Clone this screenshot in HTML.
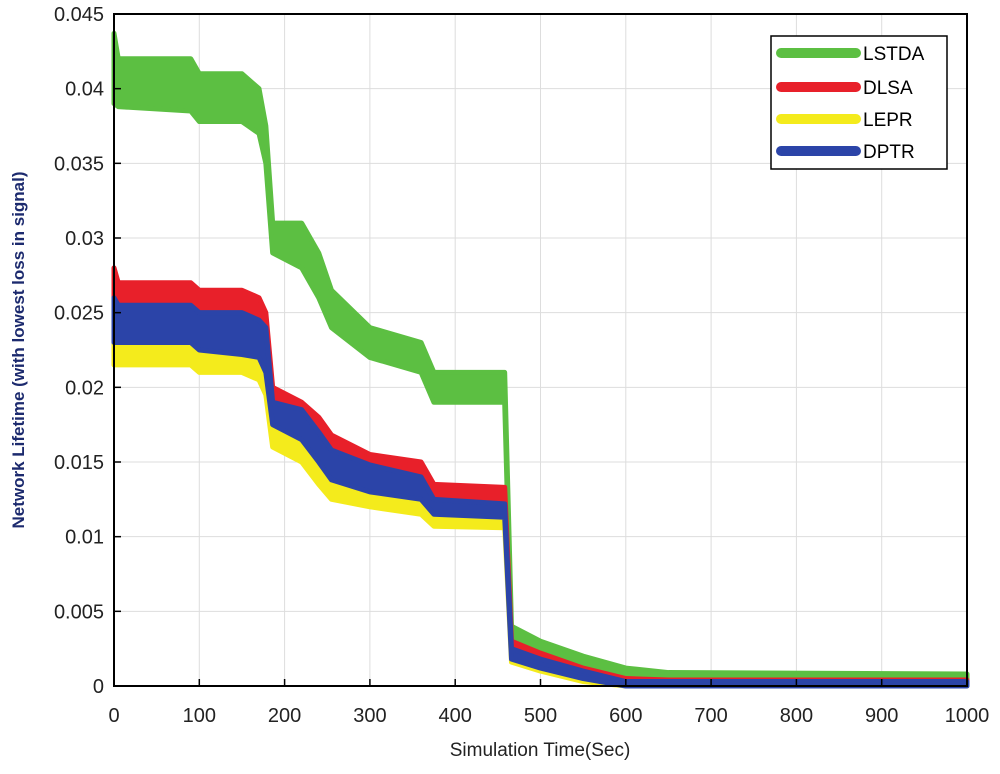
<!DOCTYPE html>
<html><head><meta charset="utf-8"><style>
body{margin:0;background:#fff;}
svg text{font-family:"Liberation Sans",sans-serif;}
</style></head><body>
<svg id="chart" width="1000" height="769" xmlns="http://www.w3.org/2000/svg">
<g id="grid"></g>
<g id="series"></g>
<rect x="114" y="14" width="853" height="672" fill="none" stroke="#000" stroke-width="2"/>
<g id="ticks"></g>
<text x="540" y="756" font-size="19" text-anchor="middle" fill="#222">Simulation Time(Sec)</text>
<text transform="translate(24,350) rotate(-90)" font-size="17" font-weight="bold" text-anchor="middle" fill="#1c2a6e">Network Lifetime (with lowest loss in signal)</text>
<g>
<rect x="771" y="36" width="176" height="133" fill="#fff" stroke="#000" stroke-width="1.5"/>
<line x1="781" y1="53" x2="856" y2="53" stroke="#5cbf42" stroke-width="10" stroke-linecap="round"/>
<text x="863" y="60" font-size="19">LSTDA</text>
<line x1="781" y1="87" x2="856" y2="87" stroke="#e8202a" stroke-width="10" stroke-linecap="round"/>
<text x="863" y="94" font-size="19">DLSA</text>
<line x1="781" y1="119" x2="856" y2="119" stroke="#f4eb1c" stroke-width="10" stroke-linecap="round"/>
<text x="863" y="126" font-size="19">LEPR</text>
<line x1="781" y1="151" x2="856" y2="151" stroke="#2b44a8" stroke-width="10" stroke-linecap="round"/>
<text x="863" y="158" font-size="19">DPTR</text>
</g>
</svg>
<script>
const times = [0,5,90,100,150,170,178,186,220,240,255,300,360,375,458,466,500,550,600,650,1000];
const lstdaUpper = [.0437,.042,.042,.041,.041,.040,.0375,.031,.031,.029,.0265,.024,.023,.021,.021,.004,.003,.002,.0012,.0009,.0008];
const lstdaLower = [.039,.0388,.0385,.0378,.0378,.037,.035,.029,.028,.026,.024,.022,.021,.019,.019,.0025,.0018,.0012,.0005,.0004,.0003];
const dlsaUpper = [.028,.027,.027,.0265,.0265,.026,.025,.020,.019,.018,.0168,.0155,.015,.0135,.0133,.003,.0022,.0012,.0005,.0004,.0004];
const dptrUpper = [.026,.0255,.0255,.025,.025,.0245,.024,.019,.0185,.017,.0158,.0148,.014,.0125,.0122,.0025,.0018,.001,.0003,.0003,.0003];
const dptrLower = [.023,.023,.023,.0225,.0222,.022,.021,.0175,.0165,.015,.0138,.013,.0125,.0115,.0113,.0018,.0012,.0005,0,0,0];
const leprLower = [.0215,.0215,.0215,.021,.021,.0205,.0195,.016,.015,.0135,.0125,.012,.0115,.0107,.0106,.0016,.001,.0003,0,0,0];
const xTicks = [0,100,200,300,400,500,600,700,800,900,1000];
const yTicks = [0,0.005,0.01,0.015,0.02,0.025,0.03,0.035,0.04,0.045];
const yTickLabels = ["0","0.005","0.01","0.015","0.02","0.025","0.03","0.035","0.04","0.045"];

const NS="http://www.w3.org/2000/svg";
const X0=114,X1=967,Y0=686,Y1=14;
function xs(v){return X0+(v/1000)*(X1-X0);}
function ys(v){return Y0-(v/0.045)*(Y0-Y1);}
const grid=document.getElementById('grid'),ticks=document.getElementById('ticks'),ser=document.getElementById('series');
function mk(tag,attrs,parent){const e=document.createElementNS(NS,tag);for(const k in attrs)e.setAttribute(k,attrs[k]);parent.appendChild(e);return e;}
xTicks.forEach((t,i)=>{
  const g=mk('line',{x1:xs(t),x2:xs(t),y1:Y1,y2:Y0,stroke:'#ddd','stroke-width':1},grid);
  
  
  const tk=mk('line',{x1:xs(t),x2:xs(t),y1:Y0,y2:Y0-7,stroke:'#000','stroke-width':1.5},ticks);
  
  
  const tx=mk('text',{x:xs(t),y:722,'font-size':20,'text-anchor':'middle',fill:'#222'},ticks);
  tx.textContent=String(t);
  
  
});
yTicks.forEach((t,i)=>{
  const g=mk('line',{x1:X0,x2:X1,y1:ys(t),y2:ys(t),stroke:'#ddd','stroke-width':1},grid);
  
  
  const tk=mk('line',{x1:X0,x2:X0+7,y1:ys(t),y2:ys(t),stroke:'#000','stroke-width':1.5},ticks);
  
  
  const tx=mk('text',{x:104,y:ys(t)+7,'font-size':20,'text-anchor':'end',fill:'#222'},ticks);
  tx.textContent=yTickLabels[i];
  
  
});
function band(up,lo,color,name){
  let pts=times.map((t,i)=>xs(t)+','+ys(up[i]));
  pts=pts.concat(times.map((t,i)=>xs(t)+','+ys(lo[i])).reverse());
  const p=mk('polygon',{points:pts.join(' '),fill:color,stroke:color,'stroke-width':5,'stroke-linejoin':'round'},ser);
  
  
}
band(lstdaUpper,lstdaLower,'#5cbf42','series-lstda');
band(dlsaUpper,dptrUpper,'#e8202a','series-dlsa');
band(dptrLower,leprLower,'#f4eb1c','series-lepr');
band(dptrUpper,dptrLower,'#2b44a8','series-dptr');
</script>
</body></html>
